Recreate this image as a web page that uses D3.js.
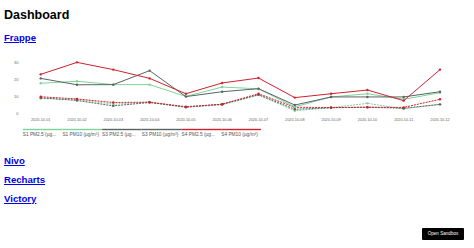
<!DOCTYPE html>
<html>
<head>
<meta charset="utf-8">
<script src="https://cdn.jsdelivr.net/npm/d3@7"></script>
<style>
  body { margin: 0; width: 474px; height: 248px; overflow: hidden; background: #fff;
         font-family: "Liberation Sans", Arial, Helvetica, sans-serif; position: relative; }
  .h { position: absolute; left: 4px; font-weight: bold; line-height: 1; margin: 0; }
  h1.h { font-size: 12.5px; top: 9px; color: #000; }
  a.h { font-size: 9.6px; color: #0000ee; text-decoration: underline; }
  #chart { position: absolute; left: 0; top: 0; }
  #sandbox { position: absolute; left: 422px; top: 228px; width: 42px; height: 12px; background: #000;
             color: #fff; font-size: 4.6px; line-height: 12px; text-align: center; border-radius: 1px; }
</style>
</head>
<body>
<h1 class="h">Dashboard</h1>
<a class="h" href="#" style="top:33px">Frappe</a>
<svg id="chart" width="474" height="150"></svg>
<a class="h" href="#" style="top:156px">Nivo</a>
<a class="h" href="#" style="top:175px">Recharts</a>
<a class="h" href="#" style="top:194px">Victory</a>
<div id="sandbox">Open Sandbox</div>
<script>
const dates = ["2020-10-01", "2020-10-02", "2020-10-03", "2020-10-04", "2020-10-05", "2020-10-06",
               "2020-10-07", "2020-10-08", "2020-10-09", "2020-10-10", "2020-10-11", "2020-10-12"];
const seriesNames = ["S1 PM2.5 (µg/m³)", "S1 PM10 (µg/m³)", "S3 PM2.5 (µg/m³)",
                     "S3 PM10 (µg/m³)", "S4 PM2.5 (µg/m³)", "S4 PM10 (µg/m³)"];
const seriesColors = ["#7fd39a", "#7fd39a", "#5a6464", "#5a6464", "#d0202e", "#d0202e"];
const s1pm25 = [8.8, 8.2, 5.4, 6.6, 3.7, 5.0, 10.8, 1.5, 3.3, 5.9, 2.6, 5.3];
const s1pm10 = [17.8, 19, 17, 17, 10, 15.6, 14.5, 3.8, 9.7, 11.6, 8.3, 12.2];
const s3pm25 = [9.2, 7.6, 4.4, 6.4, 3.6, 5.4, 11.0, 2.4, 3.3, 3.6, 3.0, 5.3];
const s3pm10 = [20.7, 16.9, 17, 25.3, 9.9, 12.8, 14.6, 4.9, 9.7, 9.7, 9.7, 12.8];
const s4pm25 = [9.8, 8.5, 6.4, 6.6, 3.9, 5.4, 11.6, 3.6, 3.4, 3.6, 3.5, 8.3];
const s4pm10 = [23.1, 30.2, 25.9, 20.7, 11.6, 18, 20.9, 9.3, 11.6, 13.8, 7.5, 25.9];
const yTicks = [0, 10, 20, 30];

const seriesValues = [s1pm25, s1pm10, s3pm25, s3pm10, s4pm25, s4pm10];
const series = seriesNames.map((name, i) => ({
    name: name,
    color: seriesColors[i],
    dashed: name.includes("PM2.5"),
    values: seriesValues[i]
}));

const svg = d3.select("#chart");

const x = d3.scalePoint()
    .domain(dates)
    .range([40.7, 440]);

const y = d3.scaleLinear()
    .domain([0, 30])
    .range([113.3, 62.7]);

// y labels
svg.selectAll(".y-label")
    .data(yTicks)
    .join("text")
    .attr("x", 18.5)
    .attr("y", d => y(d))
    .attr("dy", "0.35em")
    .attr("text-anchor", "end")
    .attr("font-size", 4)
    .attr("fill", "#666")
    .text(d => d);

// x labels
svg.selectAll(".x-label")
    .data(dates)
    .join("text")
    .attr("x", d => x(d))
    .attr("y", 120)
    .attr("dy", "0.35em")
    .attr("text-anchor", "middle")
    .attr("font-size", 3.8)
    .attr("fill", "#666")
    .text(d => d);

const line = d3.line()
    .x((_, i) => x(dates[i]))
    .y(d => y(d));

// draw the lower series first so the reds sit on top
const order = [0, 2, 4, 1, 3, 5];
order.forEach(k => {
    const s = series[k];
    svg.append("path")
        .attr("fill", "none")
        .attr("stroke", s.color)
        .attr("stroke-width", 1)
        .attr("stroke-dasharray", s.dashed ? "2,1" : null)
        .attr("d", line(s.values));

    svg.selectAll(null)
        .data(s.values)
        .join("circle")
        .attr("cx", (_, i) => x(dates[i]))
        .attr("cy", d => y(d))
        .attr("r", 1.2)
        .attr("fill", s.color);
});

// legend
const legendX = d3.scaleBand()
    .domain(seriesNames)
    .range([22.7, 22.7 + 39.7 * seriesNames.length]);

const truncate = t => t.length > 15 ? t.slice(0, 12) + "..." : t;

const legend = svg.selectAll(".legend")
    .data(series)
    .join("g")
    .attr("transform", d => `translate(${legendX(d.name)}, 128.8)`);

legend.append("rect")
    .attr("width", legendX.bandwidth())
    .attr("height", 1.4)
    .attr("fill", d => d.color);

legend.append("text")
    .attr("y", 7.4)
    .attr("font-size", 4.8)
    .attr("fill", "#555")
    .text(d => truncate(d.name));
</script>
</body>
</html>
